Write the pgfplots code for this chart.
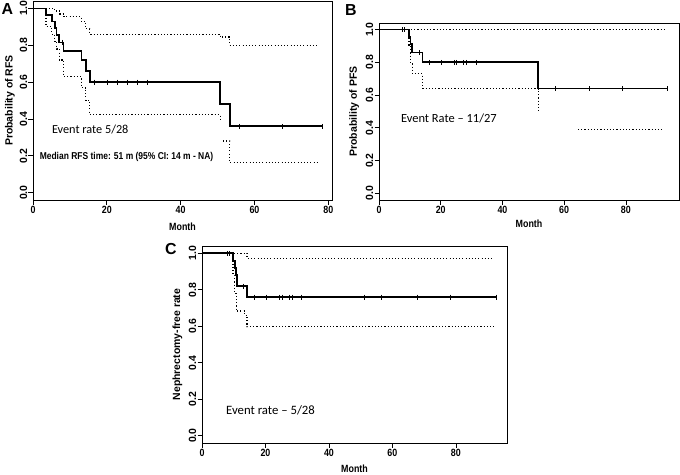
\documentclass[border=0pt]{standalone}
\usepackage{fontspec}
\setmainfont{Liberation Sans}
\newfontfamily\calibri{Carlito}
\usepackage{pgfplots}
\pgfplotsset{compat=1.18}
\newcommand{\tickfont}{\bfseries\fontsize{10.5}{12}\selectfont}
\pgfplotsset{
  km/.style={
    scale only axis,
    xmin=0, ymin=-0.04, ymax=1.04,
    axis line style={line width=0.9bp},
    tick align=outside,
    xtick pos=left, ytick pos=left,
    major tick length=4.5bp,
    tick style={line width=0.8bp, black},
    ytick={0,0.2,0.4,0.6,0.8,1},
    yticklabels={0.0,0.2,0.4,0.6,0.8,1.0},
    xtick={0,20,40,60,80},
    xticklabels={0,20,40,60,80},
    xticklabel style={font=\tickfont, xscale=0.85, inner sep=1bp},
    yticklabel style={font=\tickfont, rotate=90, anchor=south, inner sep=1bp},
    xlabel={Month},
    xlabel style={font=\tickfont, xscale=0.85, anchor=center},
    ylabel style={font=\tickfont, anchor=center},
  },
  surv/.style={black, line width=1.7bp, const plot, no marks},
  ci/.style={black, line width=1.3bp, dash pattern=on 1.1bp off 2.1bp, const plot, no marks},
  cens/.style={black, only marks, mark=|, mark size=2.5bp, mark options={line width=0.7bp}},
}
\begin{document}
\begin{tikzpicture}
\path[use as bounding box] (0,0) rectangle (680bp,-475bp);
% ---------- Panel A ----------
\begin{axis}[km, at={(33bp,-1bp)}, anchor=north west, width=299bp, height=199bp, xmax=81,
  ylabel={Probability of RFS},
  xlabel style={at={(axis description cs:0.5,-0.133)}},
  ylabel style={at={(axis description cs:-0.077,0.5)}}]
\addplot[surv] coordinates {(0,1)(3.5,0.964)(5.1,0.929)(5.9,0.893)(6.4,0.857)(7.1,0.815)(8.3,0.77)(13.1,0.72)(14.3,0.66)(15.4,0.60)(50.7,0.48)(53.3,0.36)(78.3,0.36)};
\addplot[cens] coordinates {(8.0,0.815)(16.7,0.60)(20.1,0.60)(22.9,0.60)(25.6,0.60)(28.3,0.60)(31.0,0.60)(56.0,0.36)(67.6,0.36)(78.3,0.36)};
\addplot[ci] coordinates {(0,1)(5.9,0.985)(7.1,0.97)(8.3,0.955)(13.1,0.93)(14.3,0.89)(15.4,0.86)(50.7,0.845)(53.3,0.80)(77.5,0.80)};
\addplot[ci] coordinates {(0,1)(3.5,0.90)(5.1,0.86)(5.9,0.82)(6.4,0.78)(7.1,0.72)(8.3,0.63)(13.1,0.57)(14.3,0.50)(15.4,0.423)(50.7,0.395)};
\addplot[ci] coordinates {(51.5,0.28)(53.3,0.163)(77.5,0.163)};
\node[anchor=west, font=\calibri\fontsize{12.3}{14}\selectfont] at (axis cs:4.2,0.342) {Event rate 5/28};
\node[anchor=west, font=\bfseries\fontsize{10}{12}\selectfont, xscale=0.85, inner sep=0pt] at (axis cs:1.8,0.196) {Median RFS time: 51 m (95\% CI: 14 m - NA)};
\end{axis}
% ---------- Panel B ----------
\begin{axis}[km, at={(379bp,-23bp)}, anchor=north west, width=300bp, height=177bp, xmax=97.2,
  ylabel={Probability of PFS},
  xlabel style={at={(axis description cs:0.5,-0.133)}},
  ylabel style={at={(axis description cs:-0.083,0.5)}}]
\addplot[surv] coordinates {(0,1)(9.7,0.955)(10.2,0.91)(10.8,0.86)(14.1,0.80)(51.6,0.64)(93.4,0.64)};
\addplot[cens] coordinates {(7.6,1)(8.1,1)(13.0,0.86)(16.4,0.80)(20.2,0.80)(24.5,0.80)(25.1,0.80)(27.2,0.80)(28.3,0.80)(31.4,0.80)(57,0.64)(68.3,0.64)(78.9,0.64)(93.4,0.64)};
\addplot[ci] coordinates {(0,1)(92.6,1)};
\addplot[ci] coordinates {(0,1)(9.7,0.90)(10.2,0.80)(10.8,0.73)(14.1,0.64)(51.6,0.49)};
\addplot[ci] coordinates {(64.5,0.391)(92,0.391)};
\node[anchor=west, font=\calibri\fontsize{12.5}{14}\selectfont] at (axis cs:6.0,0.455) {Event Rate – 11/27};
\end{axis}
% ---------- Panel C ----------
\begin{axis}[km, at={(202bp,-246bp)}, anchor=north west, width=305bp, height=197bp, xmax=96.1,
  ylabel={Nephrectomy-free rate},
  xlabel style={at={(axis description cs:0.5,-0.129)}},
  ylabel style={at={(axis description cs:-0.081,0.5)}}]
\addplot[surv] coordinates {(0,1)(9.8,0.96)(10.3,0.92)(10.7,0.88)(11.1,0.82)(14.2,0.76)(92.6,0.76)};
\addplot[cens] coordinates {(8.0,1)(8.7,1)(12.9,0.82)(16.6,0.76)(20.3,0.76)(24.5,0.76)(25.3,0.76)(27.4,0.76)(28.5,0.76)(31.3,0.76)(51.3,0.76)(56.6,0.76)(67.8,0.76)(78.1,0.76)(92.6,0.76)};
\addplot[ci] coordinates {(0,1)(14.2,0.971)(91.8,0.971)};
\addplot[ci] coordinates {(0,1)(9.8,0.88)(10.3,0.78)(10.8,0.684)(13.5,0.66)(14.2,0.597)(91.8,0.597)};
\node[anchor=west, font=\calibri\fontsize{12.8}{14}\selectfont] at (axis cs:6.5,0.14) {Event rate – 5/28};
\end{axis}
% panel letters
\node[font=\bfseries\fontsize{16}{18}\selectfont] at (7.5bp,-9.5bp) {A};
\node[font=\bfseries\fontsize{16}{18}\selectfont] at (351bp,-10bp) {B};
\node[font=\bfseries\fontsize{16}{18}\selectfont] at (171bp,-249bp) {C};
\end{tikzpicture}
\end{document}
